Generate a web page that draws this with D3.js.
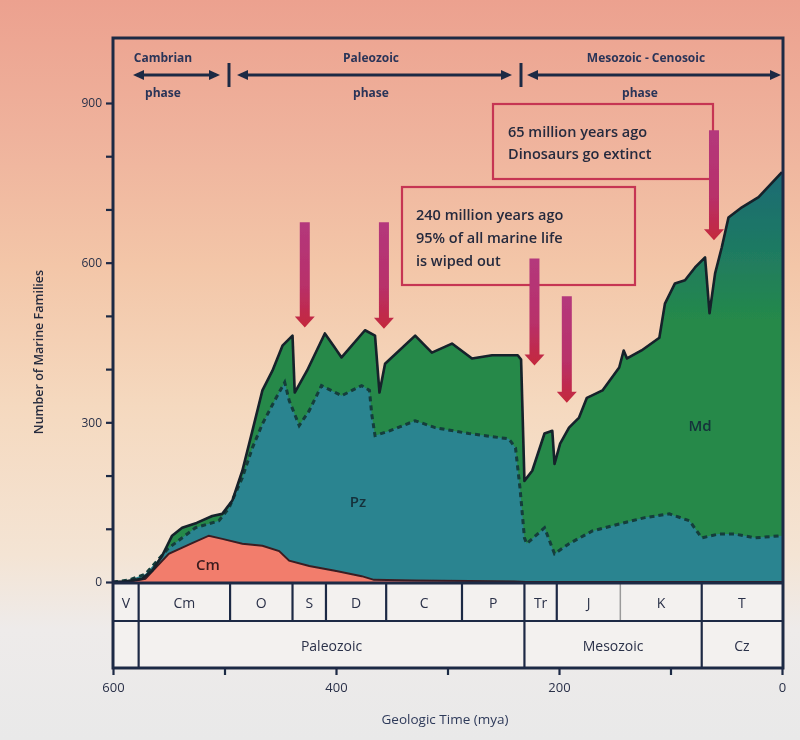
<!DOCTYPE html>
<html><head><meta charset="utf-8">
<script src="https://cdn.jsdelivr.net/npm/d3@7"></script>
<style>body{margin:0;background:#eee;} svg{display:block}</style>
</head><body><svg id="c" width="800" height="740"></svg>
<script>
// ---- data (mya, number of marine families; cumulative boundaries) ----
const totalFamilies = [[600,0],[590,1],[574,6],[565,21],[556,49],[547,87],[538,102],[525,111],[511,124],[502,128],[493,153],[484,209],[475,284],[466,360],[457,397],[448,444],[439,463],[437,356],[426,397],[410,467],[395,422],[374,473],[365,463],[361,356],[356,410],[329,463],[314,431],[296,448],[278,420],[260,426],[237,426],[234,418],[231,190],[224,209],[213,279],[206,284],[204,222],[199,260],[191,290],[182,309],[175,346],[161,360],[146,403],[142,435],[139,420],[126,435],[110,459],[105,523],[96,561],[87,567],[78,591],[69,610],[65,505],[60,580],[54,629],[48,685],[36,704],[21,723],[0,770]];
const cambrianPlusPaleozoic = [[600,0],[585,4],[571,15],[550,64],[526,102],[505,115],[496,139],[484,196],[475,252],[466,297],[455,341],[446,375],[442,341],[433,294],[424,322],[413,369],[395,350],[377,369],[370,360],[368,316],[365,275],[352,284],[329,303],[311,290],[281,279],[245,269],[239,252],[235,177],[231,83],[229,72],[213,102],[204,53],[191,72],[170,96],[146,109],[123,121],[101,128],[83,115],[72,83],[57,90],[42,90],[24,83],[0,87]];
const cambrianFauna = [[600,0],[585,1],[571,6],[562,26],[550,53],[530,72],[514,87],[502,81],[484,72],[466,68],[451,58],[442,40],[424,30],[401,21],[377,11],[366,4],[330,3],[280,2],[240,1],[230,0],[0,0]];
const faunaLabels = ["Cm","Pz","Md"];
const periodNames = ["V","Cm","O","S","D","C","P","Tr","J","K","T"];
const periodBounds = [600,577,495,439,409,355,287,231,202,145,72,0];
const eraNames = ["","Paleozoic","Mesozoic","Cz"];
const eraBounds = [600,577,231,72,0];
const yTicks = [0,100,200,300,400,500,600,700,800,900];
const yTickLabels = [0,300,600,900];
const xTicks = [600,500,400,300,200,100,0];
const xTickLabels = [600,400,200,0];
// extinction arrows: [mya, from families, to families]
const extinctionArrows = [[428,676,478],[357,676,476],[222,608,407],[193,537,337],[61,849,642]];
const phaseNames = [["Cambrian","phase"],["Paleozoic","phase"],["Mesozoic - Cenosoic","phase"]];
const notes = [["65 million years ago","Dinosaurs go extinct"],["240 million years ago","95% of all marine life","is wiped out"]];

// ---- layout ----
const svg = d3.select("#c");
const L = 113, R = 783, T = 38, B0 = 583, B1 = 621, B2 = 668;
const x = d3.scaleLinear().domain([600,0]).range([L,R-1]);
const y = d3.scaleLinear().domain([0,900]).range([582,103]);
const ink = "#1f2944";
const font = "'Open Sans', 'Noto Sans', sans-serif";

const defs = svg.append("defs");
const bg = defs.append("linearGradient").attr("id","bg").attr("x1",0).attr("y1",0).attr("x2",0).attr("y2",1);
[[0,"#eca18f"],[0.18,"#efb29c"],[0.36,"#f3c6a8"],[0.55,"#f5d9bf"],[0.75,"#f4e4d4"],[0.85,"#eeebea"],[1,"#e9e9e9"]].forEach(s=>bg.append("stop").attr("offset",s[0]).attr("stop-color",s[1]));
const md = defs.append("linearGradient").attr("id","md").attr("gradientUnits","userSpaceOnUse").attr("x1",0).attr("y1",180).attr("x2",0).attr("y2",320);
[[0,"#1b6c72"],[0.5,"#1f7a62"],[1,"#25894a"]].forEach(s=>md.append("stop").attr("offset",s[0]).attr("stop-color",s[1]));
const ar = defs.append("linearGradient").attr("id","ar").attr("x1",0).attr("y1",0).attr("x2",0).attr("y2",1);
[[0,"#b4387c"],[0.6,"#b8306a"],[1,"#c4283c"]].forEach(s=>ar.append("stop").attr("offset",s[0]).attr("stop-color",s[1]));
defs.append("clipPath").attr("id","plot").append("rect").attr("x",L).attr("y",T).attr("width",R-L).attr("height",B0-T);
const blur = defs.append("filter").attr("id","soft");
blur.append("feGaussianBlur").attr("stdDeviation",0.5);

svg.append("rect").attr("width",800).attr("height",740).attr("fill","url(#bg)");

const g = svg.append("g").attr("filter","url(#soft)");
const plot = g.append("g").attr("clip-path","url(#plot)");
const area = d3.area().x(d=>x(d[0])).y0(y(0)).y1(d=>y(d[1]));
const line = d3.line().x(d=>x(d[0])).y(d=>y(d[1]));

plot.append("path").datum(totalFamilies).attr("d",area).attr("fill","url(#md)");
plot.append("path").datum(cambrianPlusPaleozoic).attr("d",area).attr("fill","#2b8490");
plot.append("path").datum(cambrianFauna).attr("d",area).attr("fill","#f27d6c");
plot.append("path").datum(cambrianFauna).attr("d",line).attr("fill","none").attr("stroke","#3a1d22").attr("stroke-width",2);
plot.append("path").datum(cambrianPlusPaleozoic).attr("d",line).attr("fill","none").attr("stroke","#123c3a").attr("stroke-width",3).attr("stroke-dasharray","5,4");
plot.append("path").datum(totalFamilies).attr("d",line).attr("fill","none").attr("stroke","#14202a").attr("stroke-width",2.6).attr("stroke-linejoin","round");

// fauna labels
const flPos = [[208,570],[358,507],[700,431]];
faunaLabels.forEach((t,i)=>g.append("text").attr("x",flPos[i][0]).attr("y",flPos[i][1]).attr("text-anchor","middle")
  .attr("font-family",font).attr("font-size",15).attr("font-weight",600).attr("fill",i==0?"#3a1a1e":"#14303a").text(t));

// annotation boxes
const boxes = [[493,104,220,75],[402,187,233,98]];
boxes.forEach(b=>g.append("rect").attr("x",b[0]).attr("y",b[1]).attr("width",b[2]).attr("height",b[3]).attr("fill","none").attr("stroke","#c63452").attr("stroke-width",2.2));
notes[0].forEach((t,i)=>g.append("text").attr("x",508).attr("y",137+i*22).attr("font-family",font).attr("font-size",14.5).attr("font-weight",600).attr("fill","#252a3e").text(t));
notes[1].forEach((t,i)=>g.append("text").attr("x",416).attr("y",220+i*23).attr("font-family",font).attr("font-size",14.5).attr("font-weight",600).attr("fill","#252a3e").text(t));

// extinction arrows
extinctionArrows.forEach(a=>{
  const cx = x(a[0]), y1 = y(a[1]), y2 = y(a[2]);
  const sw = 5, hw = 10, hh = 11;
  const p = `M${cx-sw},${y1} L${cx+sw},${y1} L${cx+sw},${y2-hh} L${cx+hw},${y2-hh} L${cx},${y2} L${cx-hw},${y2-hh} L${cx-sw},${y2-hh} Z`;
  g.append("path").attr("d",p).attr("fill","url(#ar)");
});

// phase header
const phases = [[133,220,163,true],[237,512,371,true],[527,781,646,true]];
phases.forEach((p,i)=>{
  g.append("line").attr("x1",p[0]+8).attr("x2",p[1]-8).attr("y1",75).attr("y2",75).attr("stroke",ink).attr("stroke-width",3.2);
  [[p[0],1],[p[1],-1]].forEach(([xx,dir])=>g.append("path").attr("d",`M${xx},75 L${xx+dir*11},70 L${xx+dir*11},80 Z`).attr("fill",ink));
  g.append("text").attr("x",p[2]).attr("y",62).attr("text-anchor","middle").attr("font-family",font).attr("font-size",12).attr("font-weight",700).attr("fill","#2a3458").text(phaseNames[i][0]);
  g.append("text").attr("x",p[2]-(i==2?6:0)).attr("y",97).attr("text-anchor","middle").attr("font-family",font).attr("font-size",12).attr("font-weight",700).attr("fill","#2a3458").text(phaseNames[i][1]);
});
[229,521].forEach(xx=>g.append("line").attr("x1",xx).attr("x2",xx).attr("y1",63).attr("y2",87).attr("stroke",ink).attr("stroke-width",3));

// time scale table
g.append("rect").attr("x",L).attr("y",B0).attr("width",R-L).attr("height",B2-B0).attr("fill","#f3f1ef");
periodNames.forEach((n,i)=>{
  const x0 = x(periodBounds[i]), x1 = x(periodBounds[i+1]);
  g.append("text").attr("x",(x0+x1)/2).attr("y",608).attr("text-anchor","middle").attr("font-family",font).attr("font-size",14).attr("fill","#2a3048").text(n);
  if(i>0) g.append("line").attr("x1",x0).attr("x2",x0).attr("y1",B0).attr("y2",B1).attr("stroke",n=="K"?"#9a9a9a":ink).attr("stroke-width",n=="K"?1.5:2.2);
});
eraNames.forEach((n,i)=>{
  const x0 = x(eraBounds[i]), x1 = x(eraBounds[i+1]);
  g.append("text").attr("x",(x0+x1)/2).attr("y",651).attr("text-anchor","middle").attr("font-family",font).attr("font-size",14).attr("fill","#2a3048").text(n);
  if(i>0) g.append("line").attr("x1",x0).attr("x2",x0).attr("y1",B1).attr("y2",B2).attr("stroke",ink).attr("stroke-width",2.2);
});
g.append("line").attr("x1",L).attr("x2",R).attr("y1",B1).attr("y2",B1).attr("stroke",ink).attr("stroke-width",2.2);

// frame
g.append("rect").attr("x",L).attr("y",T).attr("width",R-L).attr("height",B2-T).attr("fill","none").attr("stroke",ink).attr("stroke-width",3);
g.append("line").attr("x1",L).attr("x2",R).attr("y1",B0).attr("y2",B0).attr("stroke",ink).attr("stroke-width",3);

// y axis ticks
const yAxis = d3.axisLeft(y).tickValues(yTicks).tickSize(7).tickFormat(d=>yTickLabels.includes(d)?d:"");
const ya = g.append("g").attr("transform",`translate(${L},0)`).call(yAxis);
ya.select(".domain").remove();
ya.selectAll("line").attr("stroke",ink).attr("stroke-width",2.2);
ya.selectAll("text").attr("font-family",font).attr("font-size",12).attr("fill","#2a3048").attr("dx",-1);

// x axis ticks
const xAxis = d3.axisBottom(x).tickValues(xTicks).tickSize(7).tickFormat(d=>xTickLabels.includes(d)?d:"");
const xa = g.append("g").attr("transform",`translate(0,${B2})`).call(xAxis);
xa.select(".domain").remove();
xa.selectAll("line").attr("stroke",ink).attr("stroke-width",2.2);
xa.selectAll("text").attr("font-family",font).attr("font-size",13).attr("fill","#2a3048").attr("dy","1.1em");

// axis titles
g.append("text").attr("x",445).attr("y",724).attr("text-anchor","middle").attr("font-family",font).attr("font-size",13.5).attr("fill","#2e3a5a").text("Geologic Time (mya)");
g.append("text").attr("transform","translate(43,352) rotate(-90)").attr("text-anchor","middle").attr("font-family",font).attr("font-size",12.5).attr("font-weight",600).attr("fill","#262c3e").text("Number of Marine Families");
</script></body></html>
